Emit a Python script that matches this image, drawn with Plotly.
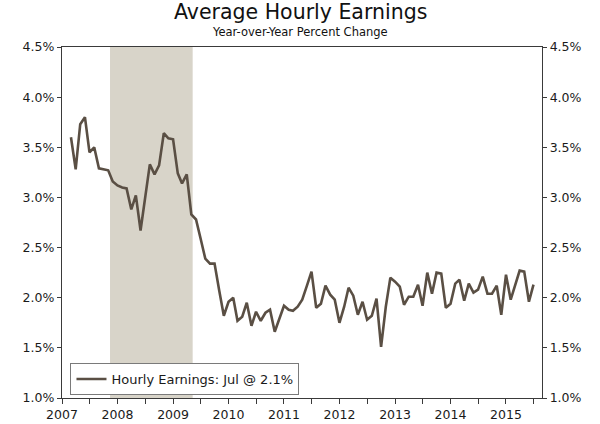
import pandas as pd
import plotly.graph_objects as go

# Monthly year-over-year % change in average hourly earnings, Mar 2007 - Jul 2015
start_month = "2007-03-01"
earnings = [
    3.60, 3.28, 3.73, 3.80, 3.45, 3.50, 3.29, 3.28, 3.27, 3.16,
    3.12, 3.10, 3.09, 2.88, 3.02, 2.67, 3.00, 3.33, 3.23, 3.32,
    3.64, 3.59, 3.58, 3.24, 3.14, 3.23, 2.83, 2.78, 2.59, 2.39,
    2.34, 2.34, 2.07, 1.82, 1.96, 2.00, 1.77, 1.81, 1.95, 1.72,
    1.86, 1.77, 1.85, 1.88, 1.66, 1.78, 1.92, 1.88, 1.87, 1.91,
    1.98, 2.12, 2.26, 1.90, 1.94, 2.12, 2.03, 1.98, 1.75, 1.91,
    2.10, 2.02, 1.83, 1.96, 1.78, 1.82, 1.99, 1.51, 1.91, 2.20,
    2.16, 2.11, 1.93, 2.01, 2.01, 2.13, 1.92, 2.25, 2.04, 2.25,
    2.24, 1.90, 1.94, 2.14, 2.18, 1.97, 2.14, 2.05, 2.08, 2.21,
    2.04, 2.04, 2.12, 1.83, 2.23, 1.98, 2.13, 2.27, 2.26, 1.96,
    2.13,
]
months = pd.date_range(start_month, periods=len(earnings), freq="MS")

recession_start = "2007-11-13"
recession_end = "2009-05-10"

legend_label = "Hourly Earnings: Jul @ 2.1%"
title_text = "Average Hourly Earnings"
subtitle_text = "Year-over-Year Percent Change"

FONT = "DejaVu Sans"
LINE_COLOR = "#5a4f44"
AXIS_COLOR = "#3a3a3a"

W, H = 600, 424
ML, MR, MT, MB = 61.5, 57.5, 47, 26
plot_w = W - ML - MR
plot_h = H - MT - MB


def px_x(xpix):
    return (xpix - ML) / plot_w


def px_y(ypix):
    return (H - MB - ypix) / plot_h


fig = go.Figure()
fig.add_trace(go.Scatter(
    x=months, y=earnings, mode="lines", name=legend_label,
    line=dict(color=LINE_COLOR, width=2.6),
))
# invisible copy bound to the right-hand axis
fig.add_trace(go.Scatter(
    x=months, y=earnings, yaxis="y2", mode="lines",
    line=dict(width=0), opacity=0, showlegend=False, hoverinfo="skip",
))

fig.add_shape(
    type="rect", xref="x", yref="paper",
    x0=recession_start, x1=recession_end, y0=0, y1=1,
    fillcolor="#d8d4c9", line=dict(width=0), layer="below",
)

yaxis_common = dict(
    range=[1.0, 4.5], dtick=0.5, tick0=1.0, tickformat=".1f", ticksuffix="%",
    showgrid=False, zeroline=False, showline=True, linecolor=AXIS_COLOR,
    linewidth=1.3, ticks="outside", ticklen=4, tickcolor=AXIS_COLOR,
    tickfont=dict(family=FONT, size=12.5, color="#1a1a1a"),
)

fig.update_layout(
    width=W, height=H,
    margin=dict(l=ML, r=MR, t=MT, b=MB, autoexpand=False),
    paper_bgcolor="white", plot_bgcolor="white",
    font=dict(family=FONT, color="#1a1a1a"),
    showlegend=True,
    legend=dict(
        x=px_x(70), y=px_y(363), xanchor="left", yanchor="top",
        bgcolor="white", bordercolor="#7a7a7a", borderwidth=1,
        font=dict(family=FONT, size=13, color="#1a1a1a"),
        itemwidth=30,
    ),
    xaxis=dict(
        type="date", range=["2007-01-01", "2015-08-26"],
        tick0="2007-01-01", dtick="M12", tickformat="%Y",
        ticks="outside", ticklen=5, tickcolor=AXIS_COLOR,
        minor=dict(dtick="M6", ticks="outside", ticklen=5, tickcolor=AXIS_COLOR, showgrid=False),
        showgrid=False, zeroline=False, showline=True, mirror=True,
        linecolor=AXIS_COLOR, linewidth=1.3,
        tickfont=dict(family=FONT, size=12.5, color="#1a1a1a"),
    ),
    yaxis=dict(**yaxis_common, side="left"),
    yaxis2=dict(**yaxis_common, side="right", overlaying="y", anchor="x"),
    annotations=[
        dict(text=title_text, x=px_x(300), y=px_y(12.5), xref="paper", yref="paper",
             xanchor="center", yanchor="middle", showarrow=False,
             font=dict(family=FONT, size=20.5, color="#111")),
        dict(text=subtitle_text, x=px_x(300), y=px_y(32), xref="paper", yref="paper",
             xanchor="center", yanchor="middle", showarrow=False,
             font=dict(family=FONT, size=11.5, color="#111")),
    ],
)

# Remove the browser's default 8px body margin so the 600x424 figure fills the window.
fig.write_html(
    "out.html",
    config={"displayModeBar": False},
    post_script="document.body.style.margin='0px';document.body.style.overflow='hidden';",
)
